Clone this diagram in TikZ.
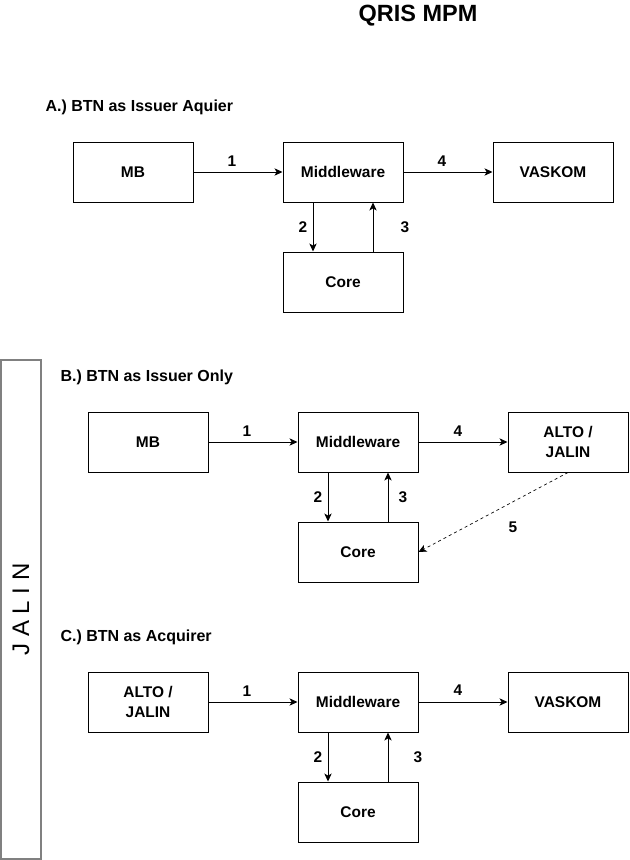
\documentclass[tikz,border=0pt]{standalone}
\usepackage{fontspec}
\setmainfont{Liberation Sans}
\usetikzlibrary{arrows.meta}

\begin{document}
\begin{tikzpicture}[x=0.75pt,y=-0.75pt,line width=0.75pt,
  blk/.style={draw, minimum width=90pt, minimum height=45pt, inner sep=0pt, align=center, font=\bfseries\fontsize{11.6pt}{15pt}\selectfont},
  lbl/.style={inner sep=0pt, font=\bfseries\fontsize{11.6pt}{14pt}\selectfont},
  hdr/.style={anchor=west, inner sep=0pt, font=\bfseries\fontsize{12pt}{14pt}\selectfont},
  flow/.style={-{Stealth[length=6pt,width=5.5pt,inset=1.6pt]}}]
\useasboundingbox (0,0) rectangle (629,860);

\node[inner sep=0pt, font=\bfseries\fontsize{17.6pt}{20pt}\selectfont] (title) at (418,16) {QRIS MPM};

\node[draw=black!50, line width=1.5pt, rotate=90, minimum width=374.25pt, minimum height=30pt, inner sep=0pt, font=\fontsize{18pt}{20pt}\selectfont] (jalin) at (21,609.5) {J A L I N};

\node[hdr] (hdrA) at (45,107) {A.) BTN as Issuer Aquier};
\node[blk] (mbA) at (133,172) {MB};
\node[blk] (mwA) at (343,172) {Middleware};
\node[blk] (vaskomA) at (553,172) {VASKOM};
\node[blk] (coreA) at (343,282) {Core};
\draw[flow] (mbA) -- (mwA);
\draw[flow] (mwA) -- (vaskomA);
\draw[flow] ([xshift=-22.5pt]mwA.south) -- ([xshift=-22.5pt]coreA.north);
\draw[flow] ([xshift=22.5pt]coreA.north) -- ([xshift=22.5pt]mwA.south);
\node[lbl] (lA1) at (232,161) {1};
\node[lbl] (lA4) at (442,161) {4};
\node[lbl] (lA2) at (303,227) {2};
\node[lbl] (lA3) at (405,227) {3};

\node[hdr] (hdrB) at (60,377) {B.) BTN as Issuer Only};
\node[blk] (mbB) at (148,442) {MB};
\node[blk] (mwB) at (358,442) {Middleware};
\node[blk] (altoB) at (568,442) {ALTO /\\JALIN};
\node[blk] (coreB) at (358,552) {Core};
\draw[flow] (mbB) -- (mwB);
\draw[flow] (mwB) -- (altoB);
\draw[flow] ([xshift=-22.5pt]mwB.south) -- ([xshift=-22.5pt]coreB.north);
\draw[flow] ([xshift=22.5pt]coreB.north) -- ([xshift=22.5pt]mwB.south);
\draw[flow, dashed, line width=0.5pt, dash pattern=on 2.25pt off 2.25pt] (altoB.south) -- (coreB.east);
\node[lbl] (lB1) at (247,431) {1};
\node[lbl] (lB4) at (458,431) {4};
\node[lbl] (lB2) at (318,497) {2};
\node[lbl] (lB3) at (403,497) {3};
\node[lbl] (lB5) at (513,527) {5};

\node[hdr] (hdrC) at (60,637) {C.) BTN as Acquirer};
\node[blk] (altoC) at (148,702) {ALTO /\\JALIN};
\node[blk] (mwC) at (358,702) {Middleware};
\node[blk] (vaskomC) at (568,702) {VASKOM};
\node[blk] (coreC) at (358,812) {Core};
\draw[flow] (altoC) -- (mwC);
\draw[flow] (mwC) -- (vaskomC);
\draw[flow] ([xshift=-22.5pt]mwC.south) -- ([xshift=-22.5pt]coreC.north);
\draw[flow] ([xshift=22.5pt]coreC.north) -- ([xshift=22.5pt]mwC.south);
\node[lbl] (lC1) at (247,691) {1};
\node[lbl] (lC4) at (458,690) {4};
\node[lbl] (lC2) at (318,757) {2};
\node[lbl] (lC3) at (418,757) {3};
\end{tikzpicture}
\end{document}
